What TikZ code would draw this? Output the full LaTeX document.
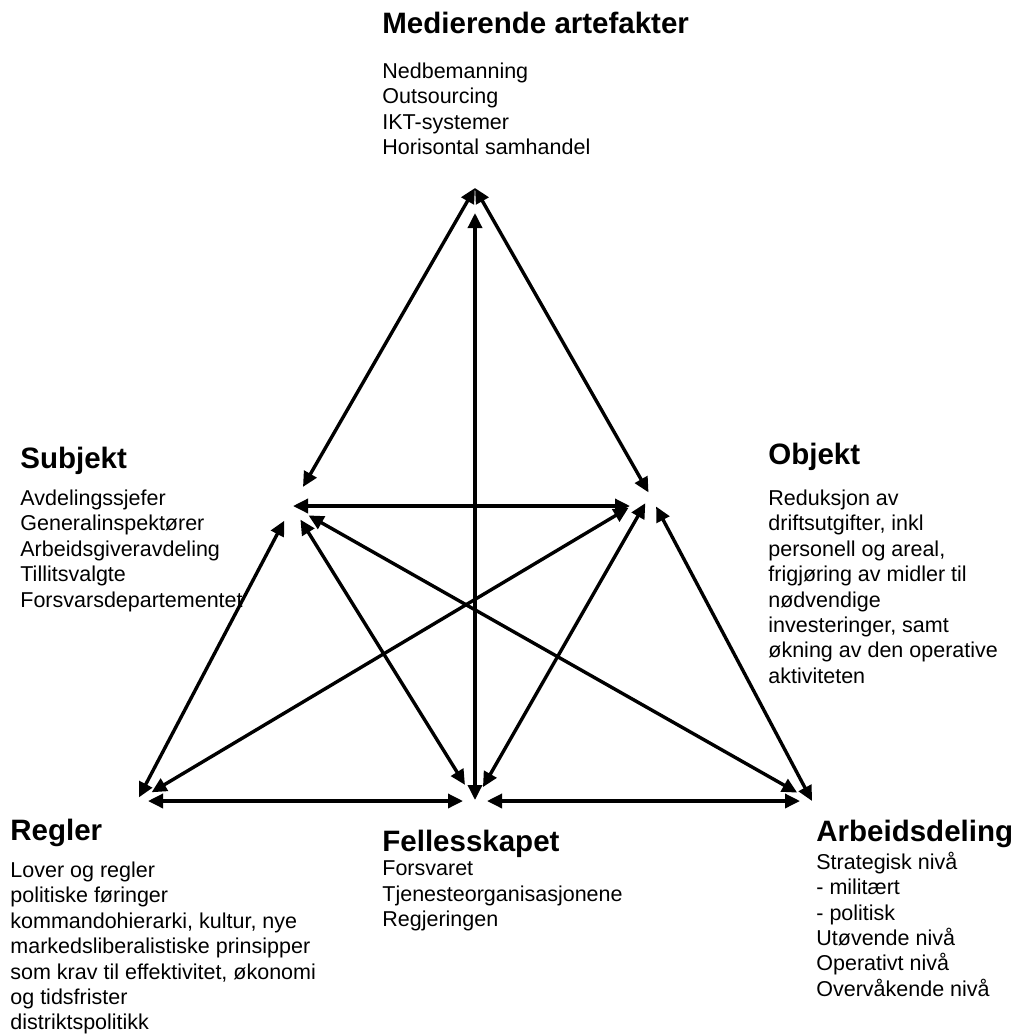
\documentclass[tikz,border=0pt]{standalone}
\usepackage{fontspec}
\setmainfont{Liberation Sans}
\usetikzlibrary{arrows.meta}
\tikzset{
  head/.style={anchor=base west, inner sep=0pt, font=\fontsize{14.75}{17}\selectfont\bfseries},
  body/.style={anchor=north west, inner sep=0pt, align=left, font=\fontsize{10.75}{12.7}\selectfont},
  link/.style={{Triangle[length=7.5pt,width=7pt]}-{Triangle[length=7.5pt,width=7pt]}, line width=1.7pt}
}
\begin{document}
\begin{tikzpicture}[x=0.5pt, y=-0.5pt]
\useasboundingbox (0,0) rectangle (1013,1035);
% corners of the triangle
\coordinate (M) at (475,188);
\coordinate (S) at (292,506);
\coordinate (O) at (650,495);
\coordinate (R) at (137,801);
\coordinate (F) at (475,801);
\coordinate (A) at (812,801);
% texts
\node[head] (mtitle) at (382,33) {Medierende artefakter};
\node[body] (mtext) at (382,62.5) {Nedbemanning\\Outsourcing\\IKT-systemer\\Horisontal samhandel};
\node[head] (stitle) at (20,468) {Subjekt};
\node[body] (stext) at (20,489.5) {Avdelingssjefer\\Generalinspektører\\Arbeidsgiveravdeling\\Tillitsvalgte\\Forsvarsdepartementet};
\node[head] (otitle) at (768,464) {Objekt};
\node[body] (otext) at (768,489.5) {Reduksjon av\\driftsutgifter, inkl\\personell og areal,\\frigjøring av midler til\\nødvendige\\investeringer, samt\\økning av den operative\\aktiviteten};
\node[head] (rtitle) at (10,840) {Regler};
\node[body] (rtext) at (10,861.5) {Lover og regler\\politiske føringer\\kommandohierarki, kultur, nye\\markedsliberalistiske prinsipper\\som krav til effektivitet, økonomi\\og tidsfrister\\distriktspolitikk};
\node[head] (ftitle) at (382,851) {Fellesskapet};
\node[body] (ftext) at (382,860.5) {Forsvaret\\Tjenesteorganisasjonene\\Regjeringen};
\node[head] (atitle) at (816,841) {Arbeidsdeling};
\node[body] (atext) at (816,851.5) {Strategisk nivå\\- militært\\- politisk\\Utøvende nivå\\Operativt nivå\\Overvåkende nivå};
% arrows
\draw[link, shorten <=11pt] (S) -- (M);
\draw[link, shorten <=1.5pt] (O) -- (M);
\draw[link, shorten <=0.5pt, shorten >=12.5pt] (F) -- (M);
\draw[link, shorten <=0.5pt, shorten >=10pt] (S) -- (S -| O);
\draw[link, shorten <=8.3pt, shorten >=2pt] (S) -- (R);
\draw[link, shorten <=8pt, shorten >=9.5pt] (S) -- (F);
\draw[link, shorten <=9.5pt, shorten >=8.5pt] (S) -- (A);
\draw[link, shorten <=12.5pt, shorten >=8.5pt] (O) -- (R);
\draw[link, shorten <=4.7pt, shorten >=8pt] (O) -- (F);
\draw[link, shorten <=6.5pt] (O) -- (A);
\draw[link, shorten <=5.5pt, shorten >=6pt] (R) -- (F);
\draw[link, shorten <=6pt, shorten >=6pt] (F) -- (A);
\end{tikzpicture}
\end{document}
